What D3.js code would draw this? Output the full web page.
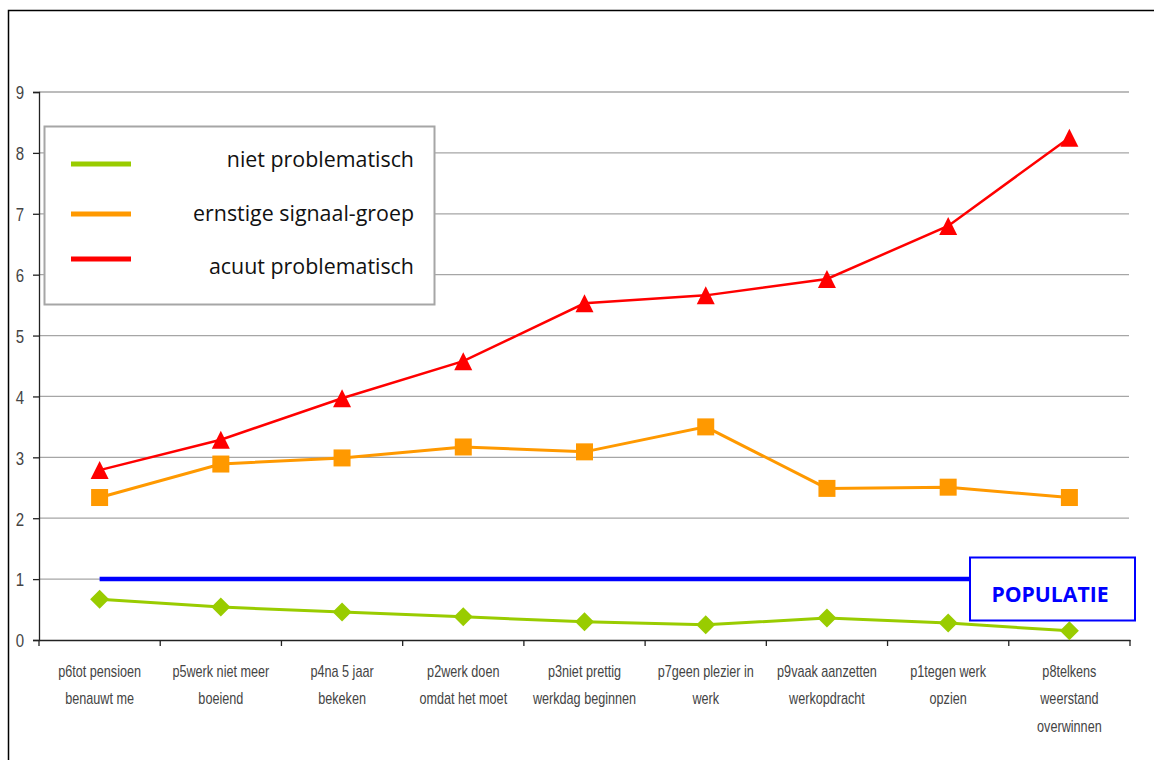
<!DOCTYPE html>
<html>
<head>
<meta charset="utf-8">
<script src="https://cdn.jsdelivr.net/npm/d3@7"></script>
<style>
  html, body { margin: 0; padding: 0; background: #fff; }
  svg { display: block; }
</style>
</head>
<body>
<svg id="chart" width="1154" height="760"></svg>
<script>
const categories = [
  "p6tot pensioen benauwt me",
  "p5werk niet meer boeiend",
  "p4na 5 jaar bekeken",
  "p2werk doen omdat het moet",
  "p3niet prettig werkdag beginnen",
  "p7geen plezier in werk",
  "p9vaak aanzetten werkopdracht",
  "p1tegen werk opzien",
  "p8telkens weerstand overwinnen"
];
const tickLabelLines = [
  ["p6tot pensioen", "benauwt me"],
  ["p5werk niet meer", "boeiend"],
  ["p4na 5 jaar", "bekeken"],
  ["p2werk doen", "omdat het moet"],
  ["p3niet prettig", "werkdag beginnen"],
  ["p7geen plezier in", "werk"],
  ["p9vaak aanzetten", "werkopdracht"],
  ["p1tegen werk", "opzien"],
  ["p8telkens", "weerstand", "overwinnen"]
];
const nietProblematisch = [0.67, 0.54, 0.46, 0.38, 0.30, 0.25, 0.36, 0.28, 0.15];
const ernstigeSignaalGroep = [2.34, 2.89, 2.99, 3.17, 3.09, 3.50, 2.49, 2.51, 2.34];
const acuutProblematisch = [2.79, 3.29, 3.97, 4.58, 5.53, 5.66, 5.93, 6.80, 8.25];
const populatie = [1, 1, 1, 1, 1, 1, 1, 1, 1];
const yTicks = [0, 1, 2, 3, 4, 5, 6, 7, 8, 9];
const seriesNames = ["niet problematisch", "ernstige signaal-groep", "acuut problematisch"];
const populatieLabel = "POPULATIE";

(function () {
const svg = d3.select("#chart");
const narrow = 0.79;
const narrowFont = "'Liberation Sans', Arial, sans-serif";

// outer frame
svg.append("rect").attr("x", 8.5).attr("y", 10.5).attr("width", 1300).attr("height", 900)
  .attr("fill", "none").attr("stroke", "#000").attr("stroke-width", 1.5);

const mLeft = 39, mRight = 1130, mTop = 92, mBottom = 640;
const x = d3.scaleBand().domain(categories).range([mLeft, mRight]).padding(0);
const y = d3.scaleLinear().domain([0, 9]).range([mBottom, mTop]);
const cx = d => x(d) + x.bandwidth() / 2;

// gridlines
svg.append("g").selectAll("line").data(yTicks.filter(t => t > 0)).join("line")
  .attr("x1", mLeft).attr("x2", mRight - 1)
  .attr("y1", d => y(d)).attr("y2", d => y(d))
  .attr("stroke", "#a6a6a6").attr("stroke-width", 1.3);

// y axis
const yAxis = svg.append("g").attr("transform", `translate(${mLeft},0)`)
  .call(d3.axisLeft(y).tickValues(yTicks).tickSize(6).tickPadding(9).tickFormat(d3.format("d")));
yAxis.select(".domain").attr("stroke", "#222").attr("stroke-width", 1.3);
yAxis.selectAll(".tick line").attr("stroke", "#222").attr("stroke-width", 1.3);
yAxis.selectAll("text")
  .attr("font-family", narrowFont).attr("font-size", 19).attr("fill", "#444")
  .attr("x", -15 / narrow).attr("dy", "0.36em")
  .attr("transform", `scale(${narrow},1)`);

// x axis
const xAxis = svg.append("g").attr("transform", `translate(0,${mBottom})`)
  .call(d3.axisBottom(x).tickValues([]).tickSize(0));
xAxis.select(".domain").attr("stroke", "#222").attr("stroke-width", 1.5);
const bounds = categories.map(c => x(c)).concat([mRight]);
svg.append("g").selectAll("line").data(bounds).join("line")
  .attr("x1", d => d).attr("x2", d => d).attr("y1", mBottom).attr("y2", mBottom + 6)
  .attr("stroke", "#222").attr("stroke-width", 1.3);

const xl = svg.append("g");
categories.forEach((c, i) => {
  const g = xl.append("g").attr("transform", `translate(${cx(c)},${mBottom + 37}) scale(${narrow},1)`);
  const t = g.append("text").attr("x", 0).attr("y", 0)
    .attr("text-anchor", "middle")
    .attr("font-family", narrowFont)
    .attr("font-size", 16).attr("fill", "#444");
  tickLabelLines[i].forEach((ln, j) => {
    t.append("tspan").attr("x", 0).attr("dy", j === 0 ? 0 : 27.5).text(ln);
  });
});

// lines
const line = d3.line().x((d, i) => cx(categories[i])).y(d => y(d));
svg.append("path").datum(populatie).attr("d", line).attr("fill", "none")
  .attr("stroke", "#0000ff").attr("stroke-width", 4.5);
svg.append("path").datum(nietProblematisch).attr("d", line).attr("fill", "none")
  .attr("stroke", "#99cc00").attr("stroke-width", 3);
svg.append("path").datum(ernstigeSignaalGroep).attr("d", line).attr("fill", "none")
  .attr("stroke", "#ff9900").attr("stroke-width", 3);
svg.append("path").datum(acuutProblematisch).attr("d", line).attr("fill", "none")
  .attr("stroke", "#ff0000").attr("stroke-width", 2.5);

// markers
svg.append("g").selectAll("path").data(nietProblematisch).join("path")
  .attr("transform", (d, i) => `translate(${cx(categories[i])},${y(d)})`)
  .attr("d", "M0,-9.5L9.5,0L0,9.5L-9.5,0Z").attr("fill", "#99cc00");
svg.append("g").selectAll("rect").data(ernstigeSignaalGroep).join("rect")
  .attr("x", (d, i) => cx(categories[i]) - 8.5).attr("y", d => y(d) - 8.5)
  .attr("width", 17).attr("height", 17).attr("fill", "#ff9900");
svg.append("g").selectAll("path").data(acuutProblematisch).join("path")
  .attr("transform", (d, i) => `translate(${cx(categories[i])},${y(d)})`)
  .attr("d", "M0,-9L9,9L-9,9Z").attr("fill", "#ff0000");

// legend
const lg = svg.append("g");
lg.append("rect").attr("x", 44.5).attr("y", 126.5).attr("width", 390).attr("height", 178)
  .attr("fill", "#fff").attr("stroke", "#a6a6a6").attr("stroke-width", 2);
const legendColors = ["#99cc00", "#ff9900", "#ff0000"];
const legendLineY = [164, 214, 259];
const legendTextY = [167, 221, 274];
seriesNames.forEach((n, i) => {
  lg.append("line").attr("x1", 71).attr("x2", 131).attr("y1", legendLineY[i]).attr("y2", legendLineY[i])
    .attr("stroke", legendColors[i]).attr("stroke-width", 5);
  lg.append("text").attr("x", 414).attr("y", legendTextY[i]).attr("text-anchor", "end")
    .attr("font-family", "'Open Sans', sans-serif").attr("font-size", 21.4).attr("fill", "#111")
    .text(n);
});

// populatie box
svg.append("rect").attr("x", 970).attr("y", 557.5).attr("width", 165).attr("height", 63)
  .attr("fill", "#fff").attr("stroke", "#0000ff").attr("stroke-width", 2);
svg.append("text").attr("x", 1050).attr("y", 602).attr("text-anchor", "middle")
  .attr("font-family", "'Open Sans', sans-serif").attr("font-weight", "bold")
  .attr("font-size", 21.2).attr("fill", "#0000ff").text(populatieLabel);
})();
</script>
</body>
</html>
